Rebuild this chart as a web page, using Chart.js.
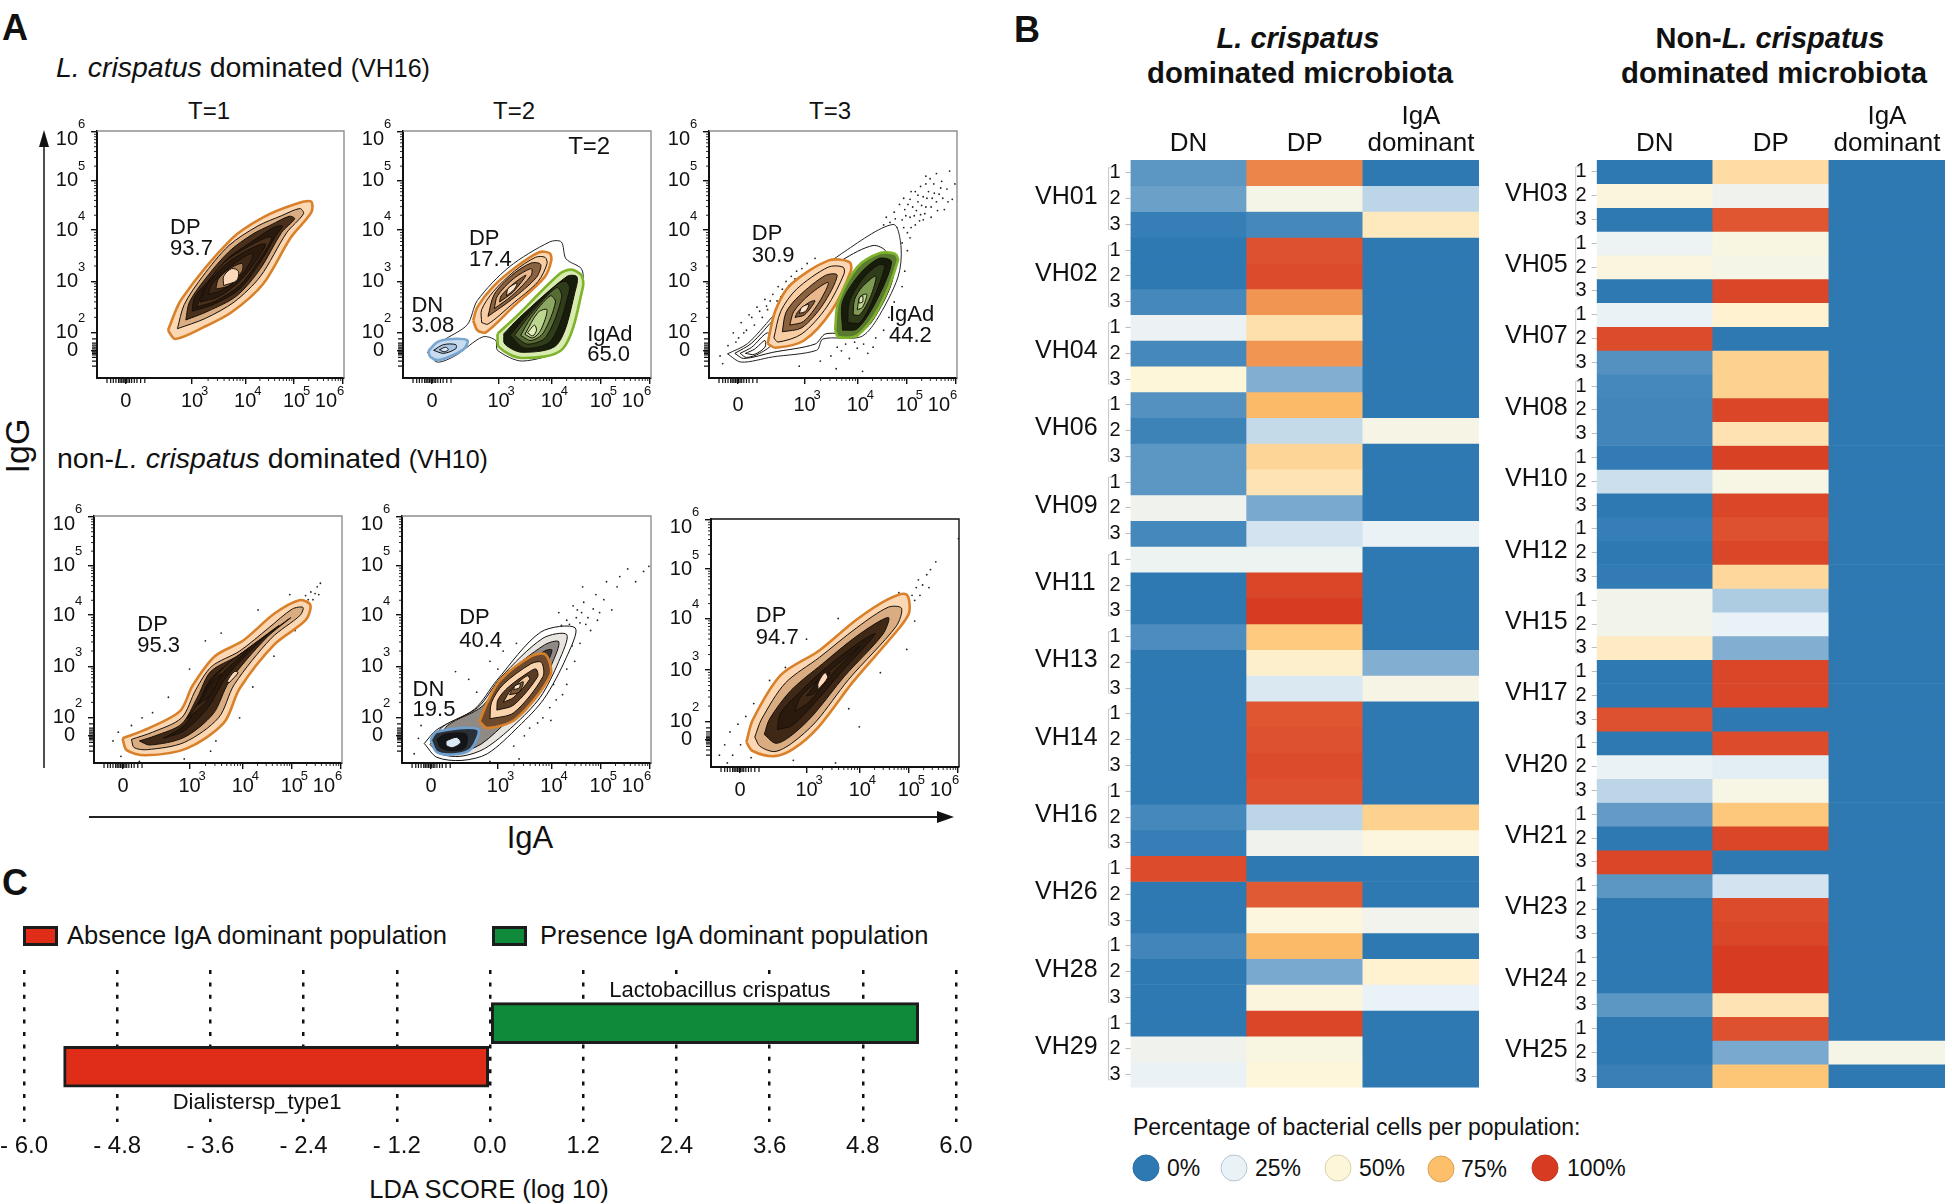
<!DOCTYPE html>
<html><head><meta charset="utf-8">
<script src="https://cdn.jsdelivr.net/npm/chart.js@4"></script>
<style>
html,body{margin:0;padding:0;background:#fff;}
#fig{position:relative;width:1952px;height:1204px;overflow:hidden;font-family:"Liberation Sans",Arial,sans-serif;color:#111;}
canvas{position:absolute;}
.t{position:absolute;white-space:nowrap;line-height:1;transform:translateY(-50%);}
.c{transform:translate(-50%,-50%);}
.sw{position:absolute;box-sizing:border-box;border:3px solid #1c1c1c;}
.dot{position:absolute;width:27px;height:27px;border-radius:50%;box-sizing:border-box;transform:translate(-50%,-50%);border:1.5px solid;}
svg{position:absolute;left:0;top:0;}
</style></head><body><div id="fig">
<svg width="1952" height="1204">
<line x1="44" y1="768" x2="44" y2="140" stroke="#222" stroke-width="1.6"/><polygon points="44,130 39,147 49,147" fill="#111"/>
<line x1="89" y1="817" x2="945" y2="817" stroke="#222" stroke-width="2"/><polygon points="954,817 937,811 937,823" fill="#111"/>
</svg>
<div class="t" style="left:2px;top:28px;font:bold 36px 'Liberation Sans'">A</div>
<div class="t" style="left:1014px;top:30px;font:bold 36px 'Liberation Sans'">B</div>
<div class="t" style="left:2px;top:883px;font:bold 36px 'Liberation Sans'">C</div>
<div class="t" style="left:56px;top:67px;font-size:28.5px"><i>L. crispatus</i> dominated <span style="font-size:25px">(VH16)</span></div>
<div class="t" style="left:57px;top:458px;font-size:28.5px">non-<i>L. crispatus</i> dominated <span style="font-size:25px">(VH10)</span></div>
<div class="t c" style="left:209px;top:111px;font-size:24px">T=1</div>
<div class="t c" style="left:514px;top:111px;font-size:24px">T=2</div>
<div class="t c" style="left:830px;top:111px;font-size:24px">T=3</div>
<div class="t c" style="left:17px;top:446px;font-size:34px;transform:translate(-50%,-50%) rotate(-90deg)">IgG</div>
<div class="t c" style="left:530px;top:837px;font-size:31px">IgA</div>
<div class="sw" style="left:23px;top:926px;width:35px;height:20px;background:#e02d17"></div>
<div class="t" style="left:67px;top:936px;font-size:25.5px">Absence IgA dominant population</div>
<div class="sw" style="left:492px;top:926px;width:35px;height:20px;background:#0f8a3a"></div>
<div class="t" style="left:540px;top:936px;font-size:25.5px">Presence IgA dominant population</div>
<div class="t c" style="left:489px;top:1190px;font-size:25.5px">LDA SCORE (log 10)</div>
<div class="t c" style="left:1298px;top:38px;font:italic bold 29px 'Liberation Sans'">L. crispatus</div>
<div class="t c" style="left:1300px;top:73px;font:bold 29.3px 'Liberation Sans'">dominated microbiota</div>
<div class="t c" style="left:1770px;top:38px;font:bold 29px 'Liberation Sans'">Non-<i>L. crispatus</i></div>
<div class="t c" style="left:1774px;top:73px;font:bold 29.3px 'Liberation Sans'">dominated microbiota</div>
<div class="t" style="left:1133px;top:1127px;font-size:23px">Percentage of bacterial cells per population:</div>
<div class="dot" style="left:1146px;top:1168px;background:#2f79b3;border-color:#2a6ea3"></div><div class="t" style="left:1167px;top:1168px;font-size:23px">0%</div>
<div class="dot" style="left:1234px;top:1168px;background:#e9f2f7;border-color:#b8c6d0"></div><div class="t" style="left:1255px;top:1168px;font-size:23px">25%</div>
<div class="dot" style="left:1338px;top:1168px;background:#fef6d9;border-color:#d8d0ae"></div><div class="t" style="left:1359px;top:1168px;font-size:23px">50%</div>
<div class="dot" style="left:1441px;top:1169px;background:#fdbf6a;border-color:#d9a458"></div><div class="t" style="left:1461px;top:1169px;font-size:23px">75%</div>
<div class="dot" style="left:1545px;top:1168px;background:#d73c22;border-color:#c2361f"></div><div class="t" style="left:1567px;top:1168px;font-size:23px">100%</div>
</div>
<script>
// ---------- Panel B data (percent of cells, rows VHxx replicate 1,2,3) ----------
const REPLICATES=['1','2','3'];
const COLUMNS=['DN','DP',['IgA','dominant']];
const VH_LEFT=['VH01','VH02','VH04','VH06','VH09','VH11','VH13','VH14','VH16','VH26','VH28','VH29'];
const DN_LEFT=[6,8,1, 0,0,3, 28,3,50, 5,2,6, 6,33,3, 30,0,0, 4,0,0, 0,0,0, 0,3,1, 97,0,0, 2.5,0,0, 0,33,27];
const DP_LEFT=[86,38,3, 96,97,83, 60,83,11, 76,20,65, 58,10,22, 30,98,100, 70,53,23, 95,96,97, 96,19,33, 0,94,47, 76,10,46, 98,43,49];
const IGA_LEFT=[0,19,56, 0,0,0, 0,0,0, 0,40,0, 0,0,27, 0,0,0, 0,11,40, 0,0,0, 0,67,47, 0,0,34, 0,52,25, 0,0,0];
const VH_RIGHT=['VH03','VH05','VH07','VH08','VH10','VH12','VH15','VH17','VH20','VH21','VH23','VH24','VH25'];
const DN_RIGHT=[0,46,0, 29,45,0, 27,97,5, 3,2.5,2.5, 0.5,21,0, 1,0,0.5, 37,37,55, 0,0,96, 0,26,19, 7,0,98, 6,0,0, 0,0,6, 0,0,1.5];
const DP_RIGHT=[62,33,95, 43,38,98, 52,0,67, 67,98,59, 99,42,98, 96,98,64, 17,25,11, 98,98,0, 97,24,42, 71,98,0, 22,97,98, 100,100,58, 96,10,72];
const IGA_RIGHT=[0,0,0, 0,0,0, 0,0,0, 0,0,0, 0,0,0, 0,0,0, 0,0,0, 0,0,0, 0,0,0, 0,0,0, 0,0,0, 0,0,0, 0,38,0];
const COLOR_STOPS=[[0,[47,121,179]],[25,[233,242,247]],[50,[254,246,217]],[75,[253,191,106]],[100,[215,60,34]]];

// ---------- Panel C data ----------
const LDA_TAXA=['Lactobacillus crispatus','Dialistersp_type1'];
const LDA_SCORES=[5.52,-5.49];
const LDA_ROWS=[1.04,2.11];

// ---------- Panel A axes (positions on the biexponential display axis, in decades) ----------
const X_TICKS=[1.74,3,4.01,4.94,5.87];
const Y_TICKS=[1.65,2,3,4,4.96,5.91];
const X_LABELS=['0','10','10','10',''];
const X_EXP=['','3','4','5',''];
const Y_LABELS=['0','10','10','10','10',''];
const Y_EXP=['','2','3','4','5',''];
const X_ZERO=[1.38,1.45,1.5,1.55,1.6,1.63,1.66,1.69,1.72,1.75,1.78,1.81,1.85,1.9,1.95,2.02,2.1];
const Y_ZERO=[1.35,1.45,1.52,1.57,1.6,1.63,1.66,1.69,1.72,1.76,1.8,1.88];

// ---------- Panel A contours: flat x,y lists, outer ring first ----------
const P1_DP=[
[2.54,2.05,2.68,1.88,3.2,2.1,3.75,2.4,4.35,2.95,4.88,3.86,5.27,4.35,5.26,4.56,4.94,4.5,4.35,4.25,3.75,3.83,2.8,2.66],
[2.72,2.08,3.25,2.28,3.8,2.6,4.3,3.1,4.8,3.95,5.12,4.32,5.05,4.42,4.7,4.28,4.25,4.08,3.7,3.7,3.2,3.1,2.85,2.55],
[2.88,2.25,3.3,2.42,3.85,2.72,4.3,3.25,4.7,3.95,4.95,4.22,4.85,4.27,4.5,4.1,4.15,3.92,3.7,3.58,3.25,3.05,2.95,2.6],
[3.0,2.42,3.4,2.55,3.9,2.85,4.28,3.35,4.6,3.9,4.72,4.08,4.55,4.05,4.1,3.75,3.68,3.45,3.3,3.0,3.05,2.7],
[3.08,2.5,3.45,2.62,3.9,2.92,4.25,3.38,4.52,3.85,4.4,3.85,4.02,3.65,3.62,3.38,3.3,2.98],
[3.15,2.6,3.5,2.7,3.9,3.0,4.22,3.4,4.4,3.72,4.3,3.72,3.95,3.55,3.6,3.3,3.3,2.95],
[3.3,2.75,3.55,2.82,3.9,3.08,4.12,3.4,4.15,3.55,3.9,3.42,3.6,3.18,3.38,2.95],
[3.45,2.85,3.7,2.92,3.95,3.2,3.95,3.35,3.72,3.25,3.5,3.05],
[3.6,2.92,3.85,3.02,3.88,3.2,3.75,3.25,3.6,3.1]];
const P2_ALL=[[1.65,1.62,2.0,1.88,2.41,2.16,2.6,2.63,3.2,3.28,3.97,3.77,4.19,3.77,4.28,3.44,4.57,3.25,4.6,3.02,4.44,2.5,4.22,1.72,3.46,1.45,2.98,1.66,2.95,1.85,2.7,1.92,2.19,1.56,1.84,1.43]];
const P2_DN=[
[1.67,1.64,1.84,1.82,2.12,1.88,2.41,1.85,2.35,1.69,2.12,1.56,1.87,1.47,1.71,1.53],
[1.77,1.66,1.96,1.77,2.19,1.77,2.19,1.69,1.96,1.6],
[1.88,1.67,2.0,1.72,2.05,1.67,1.97,1.63]];
const P2_DP=[
[2.52,2.24,2.6,2.05,2.76,2.01,3.27,2.5,3.87,3.08,4.0,3.41,3.97,3.55,3.77,3.57,3.33,3.28,2.89,2.89,2.6,2.5],
[2.68,2.2,2.8,2.17,3.25,2.55,3.75,3.0,3.92,3.35,3.88,3.47,3.7,3.47,3.3,3.2,2.9,2.8,2.68,2.45],
[2.8,2.32,3.25,2.65,3.72,3.08,3.8,3.33,3.62,3.36,3.25,3.12,2.92,2.75],
[2.92,2.47,3.25,2.72,3.62,3.12,3.62,3.25,3.28,3.05,2.98,2.72],
[3.02,2.6,3.28,2.8,3.52,3.12,3.3,2.97,3.05,2.72],
[3.15,2.72,3.3,2.85,3.35,2.97,3.18,2.86]];
const P2_IGAD=[
[2.98,1.98,3.01,1.72,3.43,1.51,4.22,1.69,4.6,2.89,4.57,3.12,4.38,3.23,4.16,3.15,3.33,2.31],
[3.1,1.98,3.12,1.78,3.45,1.62,4.12,1.78,4.48,2.92,4.48,3.1,4.3,3.1,3.4,2.3],
[3.22,1.95,3.5,1.7,4.0,1.85,4.35,2.85,4.28,3.0,4.12,2.95,3.5,2.3],
[3.3,1.95,3.55,1.78,3.9,1.92,4.2,2.7,4.1,2.88,3.6,2.35],
[3.42,1.95,3.62,1.85,3.85,2.0,4.08,2.6,3.98,2.72,3.62,2.3],
[3.5,1.97,3.65,1.9,3.8,2.05,3.92,2.45,3.75,2.4],
[3.55,2.0,3.65,1.94,3.72,2.05,3.68,2.15]];
const P3_ALL=[
[1.54,1.59,1.92,1.79,2.39,2.31,2.99,2.95,3.7,3.54,4.68,4.11,4.83,3.67,4.77,3.08,4.36,2.24,4.06,1.92,3.35,1.88,3.23,1.66,2.39,1.53,1.8,1.43],
[1.68,1.6,2.0,1.8,2.45,2.3,3.0,2.88,3.72,3.42,4.3,3.7,4.55,3.58,4.68,3.08,4.28,2.22,3.98,1.98,3.4,1.98,3.2,1.78,2.4,1.62,1.85,1.5],
[1.78,1.6,2.0,1.72,2.3,2.0,2.4,1.8,2.15,1.6,1.9,1.52],[1.88,1.6,2.05,1.68,2.25,1.85,2.25,1.72,2.05,1.58]];
const P3_DP=[
[2.3,1.79,2.45,1.71,2.99,1.85,3.52,2.44,3.88,3.21,3.85,3.38,3.46,3.41,2.75,2.95,2.45,2.44],
[2.42,1.9,2.5,1.82,2.95,1.98,3.42,2.5,3.75,3.15,3.73,3.28,3.45,3.28,2.85,2.85,2.55,2.42],
[2.58,2.02,2.95,2.1,3.35,2.55,3.62,3.12,3.4,3.12,2.9,2.72,2.65,2.4],
[2.72,2.15,2.98,2.22,3.28,2.6,3.45,2.98,3.1,2.75,2.8,2.42],
[2.82,2.3,3.0,2.35,3.2,2.62,3.1,2.6,2.88,2.42],
[2.9,2.38,3.02,2.42,3.08,2.55,2.95,2.5]];
const P3_IGAD=[
[3.58,2.05,3.64,1.92,4.0,1.95,4.42,2.5,4.77,3.41,4.71,3.54,4.42,3.55,4.0,3.28,3.64,2.6],
[3.72,2.05,4.0,2.08,4.35,2.6,4.65,3.38,4.42,3.45,4.05,3.15,3.72,2.6],
[3.82,2.2,4.05,2.2,4.3,2.65,4.52,3.3,4.4,3.32,4.1,3.05,3.85,2.6],
[3.92,2.35,4.05,2.35,4.25,2.7,4.35,3.1,4.1,2.9,3.95,2.65],
[4.0,2.45,4.1,2.5,4.18,2.75,4.05,2.7],
[4.03,2.58,4.1,2.6,4.1,2.72,4.04,2.68]];
const P4_DP=[
[1.73,1.6,1.81,1.37,2.17,1.27,2.94,1.4,3.65,1.9,3.95,2.57,4.61,3.43,5.2,3.9,5.29,4.2,5.08,4.29,4.61,4.03,4.01,3.5,3.48,3.2,3.06,2.63,2.82,2.13,2.23,1.8],
[1.9,1.58,1.95,1.42,2.2,1.38,2.9,1.52,3.55,2.0,3.85,2.65,4.55,3.55,5.1,4.0,5.15,4.15,4.95,4.12,4.5,3.75,3.95,3.3,3.42,3.0,3.12,2.55,2.85,2.0,2.3,1.72],
[2.05,1.55,2.25,1.47,2.9,1.62,3.45,2.08,3.75,2.7,4.45,3.55,4.92,3.95,4.45,3.6,3.9,3.2,3.4,2.9,3.15,2.4,2.85,1.88,2.35,1.65],
[2.5,1.6,2.9,1.75,3.35,2.2,3.7,2.8,4.35,3.5,4.7,3.8,4.3,3.5,3.85,3.15,3.4,2.75,3.15,2.25,2.9,1.85],
[2.95,1.98,3.3,2.3,3.62,2.85,4.1,3.32,3.75,3.08,3.42,2.72,3.2,2.35],
[3.15,2.25,3.4,2.45,3.6,2.85,3.45,2.72,3.25,2.4],
[3.75,2.68,3.92,2.88,3.85,2.9,3.72,2.72]];
const P5_ALL=[
[1.61,1.5,1.85,1.77,2.56,2.17,2.98,2.73,3.81,3.67,4.46,3.75,4.29,3.17,3.87,2.37,3.39,1.83,2.8,1.3,2.32,1.17,1.85,1.23],
[1.72,1.48,1.95,1.82,2.62,2.2,3.05,2.78,3.85,3.55,4.3,3.62,4.15,3.1,3.8,2.4,3.3,1.85,2.75,1.4,2.3,1.25,1.9,1.3],
[1.85,1.48,2.05,1.85,2.7,2.22,3.12,2.8,3.88,3.42,4.15,3.48,4.02,3.05,3.72,2.42,3.2,1.95,2.7,1.5,2.3,1.33,2.0,1.38],
[3.15,2.75,3.88,3.3,4.02,3.32,3.9,3.0,3.65,2.45,3.15,2.05,2.75,2.0]];
const P5_DN=[
[1.73,1.57,1.85,1.73,2.62,1.78,2.5,1.4,2.2,1.29,1.85,1.33],
[1.85,1.58,2.0,1.68,2.4,1.68,2.38,1.42,2.15,1.36,1.92,1.42],
[2.02,1.55,2.22,1.62,2.3,1.52,2.15,1.42,2.03,1.46]];
const P5_DP=[
[2.65,1.93,2.8,1.8,3.33,1.97,3.99,2.83,3.9,3.23,3.63,3.2,3.04,2.73,2.8,2.3],
[2.85,1.98,3.3,2.1,3.85,2.8,3.82,3.08,3.62,3.05,3.1,2.65,2.88,2.3],
[2.98,2.15,3.3,2.25,3.75,2.8,3.72,2.95,3.6,2.9,3.2,2.6,3.0,2.35],
[3.1,2.3,3.3,2.4,3.6,2.75,3.55,2.82,3.25,2.55],
[3.22,2.45,3.4,2.5,3.48,2.7,3.3,2.6],
[3.3,2.55,3.4,2.58,3.42,2.66,3.32,2.62]];
const P6_DP=[
[1.86,1.6,1.98,1.43,2.39,1.33,2.75,1.47,3.23,1.9,3.88,2.77,4.77,3.83,4.95,4.13,4.89,4.47,4.54,4.37,3.94,3.97,3.23,3.37,2.51,2.9,1.98,2.03],
[2.02,1.7,2.12,1.52,2.4,1.42,2.72,1.58,3.18,2.0,3.8,2.82,4.7,3.85,4.8,4.2,4.55,4.22,3.95,3.82,3.25,3.25,2.6,2.75,2.15,2.05],
[2.2,1.75,2.42,1.58,2.7,1.72,3.12,2.12,3.72,2.88,4.45,3.7,4.55,4.02,3.98,3.68,3.3,3.12,2.7,2.6,2.3,2.05],
[2.45,1.85,2.72,1.92,3.1,2.3,3.65,2.95,4.3,3.7,3.95,3.5,3.32,3.0,2.8,2.5,2.5,2.15],
[2.78,2.2,3.05,2.38,3.55,3.0,4.0,3.45,3.4,2.95,2.9,2.5],
[3.0,2.5,3.15,2.55,3.45,2.95,3.25,2.82],
[3.22,2.62,3.4,2.85,3.35,2.95,3.22,2.75]];

// ---------- Panel A outlying events ----------
const P3_DOTS=[4.42,3.8,4.5,4.1,4.55,4.25,4.6,3.95,4.7,4.35,4.75,4.05,4.8,4.5,4.85,4.2,4.9,4.4,4.95,3.95,5.0,4.6,5.0,4.25,5.05,4.45,5.1,4.75,5.1,4.1,5.15,4.55,5.2,4.3,5.2,4.85,5.25,4.65,5.3,4.45,5.3,5.05,5.35,4.75,5.4,4.25,5.45,4.9,5.5,4.55,5.5,5.1,5.55,4.7,5.6,4.95,5.65,4.4,5.7,4.8,5.75,5.15,5.8,4.6,5.85,4.9,4.55,3.65,4.65,3.75,4.85,3.75,4.95,3.6,5.0,3.85,5.25,4.2,5.42,4.62,5.62,4.62,5.72,4.55,5.38,5.0,5.12,4.38,4.88,4.62,
4.48,3.92,4.62,4.15,4.72,4.22,4.78,3.85,4.88,4.05,4.92,4.28,5.02,4.05,5.08,4.28,5.18,4.18,5.22,4.48,5.28,4.32,5.32,4.62,5.4,4.45,5.46,4.72,5.52,4.38,5.58,4.82,5.3,4.9,5.15,4.68,5.02,4.75,4.96,4.5,
1.55,1.75,1.65,2.0,1.75,1.9,1.8,2.2,1.9,2.05,1.95,2.35,2.05,2.15,2.1,2.5,2.2,2.3,2.25,2.65,2.3,2.45,2.4,2.75,2.5,2.9,2.55,2.7,2.65,3.0,2.75,3.1,2.85,3.2,2.95,3.25,3.05,3.35,3.2,3.45,1.4,1.55,1.45,1.4,
2.0,2.3,2.15,2.42,2.28,2.52,2.35,2.62,2.48,2.62,2.58,2.85,2.7,2.92,2.82,3.05,1.7,1.82,1.85,2.0,
3.5,1.55,3.7,1.65,3.85,1.5,4.0,1.7,4.2,1.6,4.35,1.9,4.5,2.05,4.6,2.3,4.7,2.6,4.85,2.9,4.9,3.2,4.1,1.25,3.6,1.3,3.3,1.45,2.9,1.35,3.62,1.72,3.78,1.78,3.95,1.82,4.12,1.78,4.3,1.72];
const P4_DOTS=[5.25,4.3,5.3,4.45,5.38,4.42,5.42,4.55,5.48,4.62,5.2,4.38,5.34,4.3,5.45,4.4,4.9,4.4,4.3,4.1,3.6,3.65,3.3,3.5,3.0,2.95,2.6,2.4,2.3,2.1,2.1,2.0,1.9,1.85,1.65,1.72,1.55,1.55,1.7,1.25,2.05,1.15,2.9,1.2,3.5,1.55,3.95,2.0,4.2,2.6,4.6,3.2,5.0,3.7,3.4,1.35];
const P5_DOTS=[4.3,3.9,4.4,3.75,4.5,4.1,4.55,3.85,4.62,4.25,4.7,3.95,4.75,3.7,4.85,4.4,4.92,4.05,5.0,4.3,5.05,4.65,5.15,4.1,5.25,4.55,5.3,4.75,5.45,4.9,5.6,4.65,5.75,4.85,5.85,4.95,4.6,4.55,4.15,4.05,4.55,3.45,4.45,3.1,4.3,2.65,4.1,2.35,3.85,2.0,3.6,1.8,3.3,1.45,3.4,1.2,2.85,1.15,2.6,2.5,2.45,2.75,2.2,2.9,2.85,3.1,3.1,3.3,3.35,3.45,3.0,2.95,1.5,1.6,1.42,1.3,1.55,1.85,4.0,1.95,3.95,2.9,4.05,2.65,
4.2,3.8,4.35,3.82,4.48,3.95,4.58,4.05,4.42,4.18,4.66,3.82,4.8,4.12,4.88,3.9,4.3,2.95,4.4,3.4,4.22,2.45,3.98,2.2,3.75,1.9,3.5,1.65];
const P6_DOTS=[5.0,4.45,5.08,4.6,5.12,4.75,5.2,4.65,5.28,4.85,5.35,4.95,5.05,4.35,5.32,4.6,5.15,4.45,5.45,5.1,5.88,5.55,4.6,3.9,5.05,3.95,4.75,4.5,3.6,4.0,3.0,3.6,2.6,3.05,2.3,2.8,2.0,2.35,1.85,2.1,1.7,1.95,1.55,1.8,1.45,1.55,1.35,1.35,1.6,1.35,1.75,1.55,1.5,1.2,1.95,1.3,2.75,1.25,3.55,1.2,4.0,1.9,3.8,2.25,4.4,2.95,4.9,3.4];

// ---------- Panel A style families (fill per ring, outer to inner) ----------
const FILL_P1=['#fbd7b4','#d9ac82','#4a2f1b','#2a190d','#4a2f1b','#2a190d','#3f2715','#a67c55','#fbd9ba'];
const FILL_LONG=['#fbd7b4','#d9ac82','#3f2816','#2a190d','#3f2715','#2a190d','#fbd9ba'];
const FILL_G=['#d8ebb0','#161d0b','#2f3d1a','#566c35','#8aa660','#bcd690','#dcedb6'];
const FILL_B=['#c7dcf0','#a7c6e6','#dbe8f5'];
const FILL_NONE=['#fff','#fff','#fff','#fff'];

const PANELS=[
 {id:'p1',x:97,y:131,w:247,h:247,frame:'#8f8f8f',pops:[[P1_DP,'#d9802a',FILL_P1]],dots:[],
  text:[['DP',2.58,4.05],['93.7',2.58,3.64]]},
 {id:'p2',x:403,y:131,w:248,h:247,frame:'#8f8f8f',pops:[[P2_ALL,'#222',FILL_NONE],[P2_DN,'#7aa6d2',FILL_B],[P2_DP,'#d9802a',['#fbd7b4','#f8cda3','#8a6240','#e8b88c','#7a5636','#fde3c9']],[P2_IGAD,'#7fb32c',FILL_G]],dots:[],
  text:[['T=2',4.32,5.62,24],['DP',2.44,3.83],['17.4',2.44,3.42],['DN',1.35,2.53],['3.08',1.35,2.13],['IgAd',4.68,1.95],['65.0',4.68,1.56]]},
 {id:'p3',x:709,y:131,w:248,h:247,frame:'#8f8f8f',lab:4,pops:[[P3_ALL,'#222',FILL_NONE],[P3_DP,'#d9802a',['#fbd7b4','#f8cda3','#8a6240','#e8b88c','#7a5636','#fde3c9']],[P3_IGAD,'#7fb32c',['#5a7a30','#161d0b','#2f3d1a','#7d9a52','#bcd690','#dcedb6']]],dots:P3_DOTS,
  text:[['DP',2.0,3.92],['30.9',2.0,3.49],['IgAd',4.6,2.34],['44.2',4.6,1.94]]},
 {id:'p4',x:94,y:516,w:248,h:247,frame:'#8f8f8f',pops:[[P4_DP,'#d9802a',FILL_LONG]],dots:P4_DOTS,
  text:[['DP',2.01,3.8],['95.3',2.01,3.39]]},
 {id:'p5',x:402,y:516,w:249,h:247,frame:'#8f8f8f',pops:[[P5_ALL,'#111',['#fff','#e8e4e0','#8f8a86','#3a3632']],[P5_DN,'#6f9fcf',['#2a3038','#12161b','#dbe8f5']],[P5_DP,'#d9802a',['#6d4a2e','#fbd3ac','#5a3c24','#f3c99f','#7a5636','#fde3c9']]],dots:P5_DOTS,
  text:[['DP',2.27,3.95],['40.4',2.27,3.5],['DN',1.39,2.55],['19.5',1.39,2.15]]},
 {id:'p6',x:711,y:519,w:248,h:248,frame:'#111',pops:[[P6_DP,'#d9802a',FILL_LONG]],dots:P6_DOTS,
  text:[['DP',2.04,4.05],['94.7',2.04,3.63]]}
];

const FONT="'Liberation Sans'";
const fig=document.getElementById('fig');
function addCanvas(l,t,w,h){const c=document.createElement('canvas');c.width=w;c.height=h;c.style.cssText=`left:${l}px;top:${t}px;width:${w}px;height:${h}px`;fig.appendChild(c);return c.getContext('2d');}
function toPts(f){const o=[];for(let i=0;i<f.length;i+=2)o.push({x:f[i],y:f[i+1]});return o;}
function minorPositions(t){const out=[];for(let i=1;i<t.length-1;i++){for(let m=2;m<10;m++){out.push(t[i]+Math.log10(m)*(t[i+1]-t[i]));}}return out;}

const flowPlugin={id:'flow',
 afterDraw(ch,a,o){const c=ch.ctx,A=ch.chartArea,X=ch.scales.x,Y=ch.scales.y;c.save();
  c.strokeStyle=o.frame;c.lineWidth=1.4;c.beginPath();c.moveTo(A.left,A.top);c.lineTo(A.right,A.top);c.lineTo(A.right,A.bottom);c.stroke();
  c.strokeStyle='#111';c.lineWidth=.9;
  const xm=minorPositions(X_TICKS),ym=minorPositions(Y_TICKS);
  c.beginPath();xm.forEach(v=>{const p=X.getPixelForValue(v);c.moveTo(p,A.bottom);c.lineTo(p,A.bottom+3);});
  ym.forEach(v=>{const p=Y.getPixelForValue(v);c.moveTo(A.left,p);c.lineTo(A.left-3,p);});c.stroke();
  c.lineWidth=1.2;c.beginPath();X_ZERO.forEach(v=>{const p=X.getPixelForValue(v);c.moveTo(p,A.bottom);c.lineTo(p,A.bottom+5);});
  Y_ZERO.forEach(v=>{const p=Y.getPixelForValue(v);c.moveTo(A.left,p);c.lineTo(A.left-5,p);});c.stroke();
  c.fillStyle='#111';c.textBaseline='middle';c.textAlign='left';c.font=`13px ${FONT}`;
  X_TICKS.forEach((v,i)=>{if(X_EXP[i])c.fillText(X_EXP[i],X.getPixelForValue(v)+9,A.bottom+13+(o.lab||0));});
  Y_TICKS.forEach((v,i)=>{if(Y_EXP[i])c.fillText(Y_EXP[i],A.left-19,Y.getPixelForValue(v)-14);});
  // the top-of-range labels sit inside the plot span in the source figure
  const tx=X.getPixelForValue(X_TICKS[4]),ty=Y.getPixelForValue(Y_TICKS[5]);
  c.fillText('6',tx-6,A.bottom+13+(o.lab||0));c.fillText('6',A.left-19,ty-8);
  c.font=`20px ${FONT}`;c.textAlign='center';c.fillText('10',tx-17,A.bottom+23+(o.lab||0));
  c.textAlign='right';c.fillText('10',A.left-19,ty+7);
  c.textAlign='left';
  o.text.forEach(t=>{c.font=`${t[3]||22}px ${FONT}`;c.fillText(t[0],X.getPixelForValue(t[1]),Y.getPixelForValue(t[2]));});
  c.restore();}};

PANELS.forEach(p=>{
 const ds=[];
 p.pops.forEach(([rings,stroke,fills])=>{
  rings.forEach((r,i)=>{const pts=toPts(r);pts.push(pts[0]);
   ds.push({data:pts,showLine:true,tension:.3,fill:'shape',backgroundColor:fills[i]||fills[fills.length-1],
    borderColor:i==0?stroke:'#17100a',borderWidth:i==0?(stroke=='#222'||stroke=='#111'?1:2.6):1,pointRadius:0});});
 });
 const all=[];
 if(p.dots.length)all.push({data:toPts(p.dots),pointRadius:.9,pointBackgroundColor:'#222',pointBorderWidth:0,showLine:false});
 all.push(...ds);
 all.reverse();
 const L=50,T=25,R=26,B=42;
 new Chart(addCanvas(p.x-L,p.y-T,p.w+L+R,p.h+T+B),{type:'scatter',data:{datasets:all},plugins:[flowPlugin],
  options:{responsive:false,animation:false,events:[],layout:{padding:{left:0,top:T,right:R,bottom:0}},
   plugins:{legend:{display:false},tooltip:{enabled:false},flow:{frame:p.frame,text:p.text,lab:p.lab}},
   scales:{
    x:{type:'linear',min:1.19,max:5.89,afterBuildTicks(s){s.ticks=X_TICKS.map(v=>({value:v}));},afterFit(s){s.height=B;},
     ticks:{autoSkip:false,maxRotation:0,font:{family:FONT,size:20},color:'#111',padding:5+(p.lab||0),callback:(v,i)=>X_LABELS[i]},
     grid:{drawOnChartArea:false,tickLength:6,color:'#111',lineWidth:1.4},border:{color:'#111',width:2}},
    y:{type:'linear',min:1.12,max:5.93,afterBuildTicks(s){s.ticks=Y_TICKS.map(v=>({value:v}));},afterFit(s){s.width=L;},
     ticks:{autoSkip:false,font:{family:FONT,size:20},color:'#111',padding:13,callback:(v,i)=>Y_LABELS[i]},
     grid:{drawOnChartArea:false,tickLength:6,color:'#111',lineWidth:1.4},border:{color:'#111',width:2}}
   }}});
});

// ---------- Panel B ----------
function pctColor(v){for(let i=1;i<COLOR_STOPS.length;i++){if(v<=COLOR_STOPS[i][0]){const [a,ca]=COLOR_STOPS[i-1],[b,cb]=COLOR_STOPS[i],t=(v-a)/(b-a);return `rgb(${ca.map((q,j)=>Math.round(q+(cb[j]-q)*t)).join(',')})`;}}return 'rgb(215,60,34)';}
const vhPlugin={id:'vh',afterDraw(ch,a,o){const c=ch.ctx,A=ch.chartArea,Y=ch.scales.y;c.save();
  c.font=`25px ${FONT}`;c.fillStyle='#111';c.textAlign='left';c.textBaseline='middle';
  c.strokeStyle='#c9c9c9';c.lineWidth=1;
  o.groups.forEach((g,i)=>{const t=Y.getPixelForValue(i*3+.5),m=Y.getPixelForValue(i*3+1.5),b=Y.getPixelForValue(i*3+2.5);
   c.fillText(g,A.left-o.nameGap,m-o.nameUp);
   c.beginPath();c.moveTo(A.left-o.brk+4,t-5);c.lineTo(A.left-o.brk,t-5);c.lineTo(A.left-o.brk,b+5);c.lineTo(A.left-o.brk+4,b+5);c.stroke();});
  c.restore();}};
function heatmap(left,top,plotLeft,plotRight,plotBottom,groups,dn,dp,iga,nameGap,brk){
 const n=dn.length,rows=[];
 for(let i=0;i<n;i++)rows.push({data:[[i,i+1],[i,i+1],[i,i+1]],backgroundColor:[pctColor(dn[i]),pctColor(dp[i]),pctColor(iga[i])],borderWidth:0,grouped:false,barPercentage:1,categoryPercentage:1});
 const W=Math.ceil(plotRight-left)+2,H=Math.ceil(plotBottom-top)+24;
 new Chart(addCanvas(left,top,W,H),{type:'bar',data:{labels:COLUMNS,datasets:rows},plugins:[vhPlugin],
  options:{responsive:false,animation:false,events:[],layout:{padding:{top:0,left:0,right:W-(plotRight-left),bottom:H-(plotBottom-top)}},
   plugins:{legend:{display:false},tooltip:{enabled:false},vh:{groups,nameGap,nameUp:2,brk}},
   scales:{
    x:{position:'top',afterFit(s){s.height=160-top;},grid:{display:false,drawTicks:false},border:{display:false},
     ticks:{autoSkip:false,maxRotation:0,padding:2,color:'#111',font:{family:FONT,size:26,lineHeight:1.06}}},
    y:{type:'linear',reverse:true,min:0,max:n,afterFit(s){s.width=plotLeft-left;},
     afterBuildTicks(s){const t=[];for(let i=0;i<n;i++)t.push({value:i+.5});s.ticks=t;},
     grid:{drawOnChartArea:false,tickLength:5,color:'#bdbdbd',lineWidth:1},border:{display:false},
     ticks:{autoSkip:false,padding:5,color:'#111',font:{family:FONT,size:20},callback:v=>REPLICATES[Math.floor(v)%3]}}
   }}});
}
heatmap(1030,95,1130.5,1479,1087.6,VH_LEFT,DN_LEFT,DP_LEFT,IGA_LEFT,95.5,22);
heatmap(1496,95,1596.7,1945,1088,VH_RIGHT,DN_RIGHT,DP_RIGHT,IGA_RIGHT,91.7,21);

// ---------- Panel C ----------
const ldaPlugin={id:'lda',afterDraw(ch){const c=ch.ctx,X=ch.scales.x,Y=ch.scales.y;c.save();
  c.font=`22px ${FONT}`;c.textAlign='center';c.textBaseline='middle';
  [[LDA_TAXA[0],2.96,.24],[LDA_TAXA[1],-3.0,3.0]].forEach(t=>{const x=X.getPixelForValue(t[1]),y=Y.getPixelForValue(t[2]),w=c.measureText(t[0]).width;
   c.fillStyle='#fff';c.fillRect(x-w/2-2,y-10,w+4,21);c.fillStyle='#111';c.fillText(t[0],x,y);});
  c.restore();}};
new Chart(addCanvas(-16,960,1010,200),{type:'bar',
 data:{datasets:[{data:LDA_SCORES.map((v,i)=>({x:v,y:LDA_ROWS[i]})),backgroundColor:['#0f8a3a','#e02d17'],borderColor:'#1c1c1c',borderWidth:3,borderSkipped:false,barThickness:41}]},
 plugins:[ldaPlugin],
 options:{indexAxis:'y',responsive:false,animation:false,events:[],layout:{padding:{left:40,right:38,top:10,bottom:0}},
  plugins:{legend:{display:false},tooltip:{enabled:false}},
  scales:{
   x:{type:'linear',min:-6,max:6,afterBuildTicks(s){const t=[];for(let i=-5;i<=5;i++)t.push({value:i*1.2});s.ticks=t;},afterFit(s){s.height=38;},
    grid:{color:'#111',lineWidth:2.5,drawTicks:false},border:{display:false,dash:[4,8.4]},
    ticks:{autoSkip:false,maxRotation:0,padding:10,color:'#111',font:{family:FONT,size:24},callback:v=>{const a=Math.abs(v).toFixed(1);return v<-0.01?'- '+a:a;}}},
   y:{type:'linear',reverse:true,min:0,max:3.2,display:false}
  }}});
</script></body></html>
